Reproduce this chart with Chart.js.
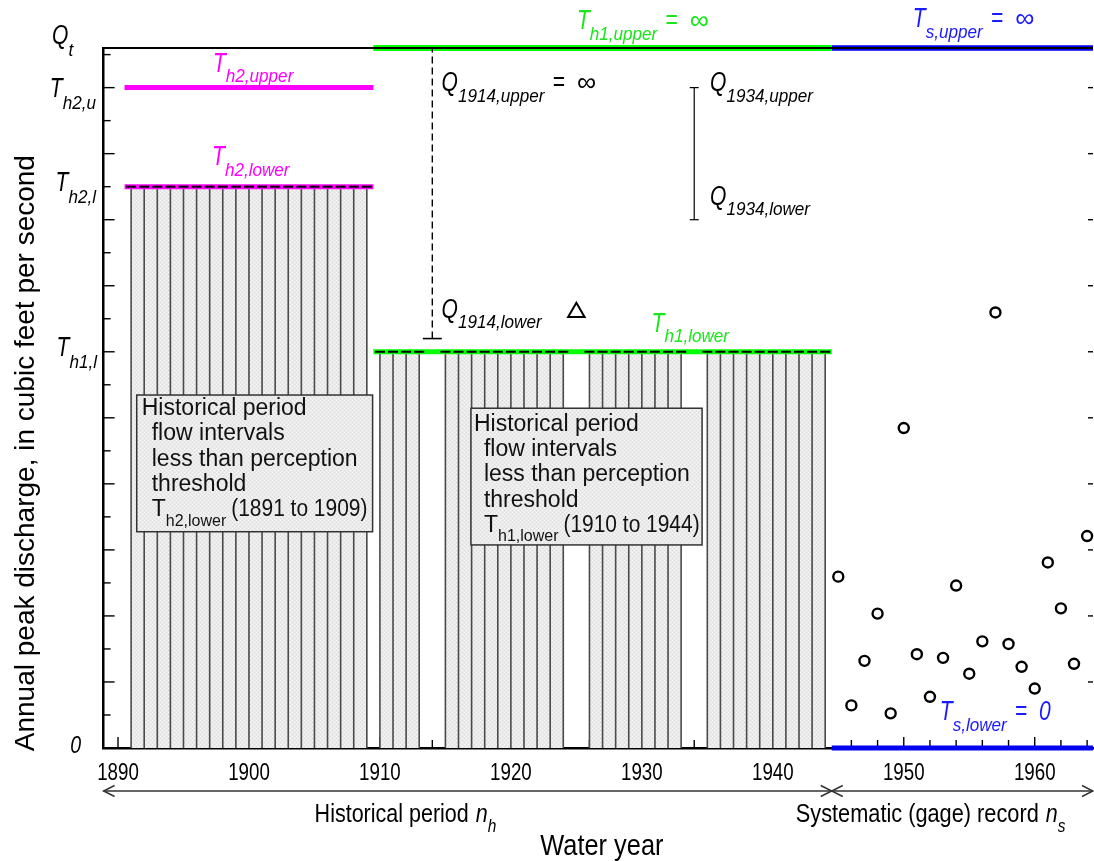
<!DOCTYPE html>
<html>
<head>
<meta charset="utf-8">
<script src="https://cdn.jsdelivr.net/npm/chart.js@4.4.0/dist/chart.umd.min.js"></script>
<style>
  html, body { margin: 0; padding: 0; background: #fff; }
  #wrap { width: 1094px; height: 861px; }
</style>
</head>
<body>
<div id="wrap"><canvas id="chart" width="1094" height="861"></canvas></div>
<script>
// ---- Data -------------------------------------------------------------
// Water years whose peak was below the second historical threshold (T_h2,lower)
const belowTh2Years = [1891, 1892, 1893, 1894, 1895, 1896, 1897, 1898, 1899, 1900,
                       1901, 1902, 1903, 1904, 1905, 1906, 1907, 1908, 1909];
// Water years whose peak was below the first historical threshold (T_h1,lower)
const belowTh1Years = [1910, 1911, 1912, 1913,
                       1915, 1916, 1917, 1918, 1919, 1920, 1921, 1922, 1923, 1924,
                       1926, 1927, 1928, 1929, 1930, 1931, 1932, 1933,
                       1935, 1936, 1937, 1938, 1939, 1940, 1941, 1942, 1943, 1944];

// Perception thresholds (figure discharge units)
const qTop = 21.2;       // Q_t
const th2Upper = 20;     // T_h2,u
const th2Lower = 17;     // T_h2,l
const th1Lower = 12;     // T_h1,l
const tsLower = 0;       // T_s,lower

// Period boundaries (water years)
const axisStart = 1888.9;
const historicalStart = 1890.5;
const th2End = 1909.5;
const historicalEnd = 1944.5;
const systematicEnd = 1964.45;

// Interval (censored) peaks; Infinity means unbounded above
const intervalYears = [1914, 1934];
const intervalLower = [12.4, 16.0];
const intervalUpper = [Infinity, 20.0];

// Historical peak with a known value
const historicPeakYears = [1925];
const historicPeaks = [13.2];

// Systematic (gage) record
const gageYears = [1945, 1946, 1947, 1948, 1949, 1950, 1951, 1952, 1953, 1954,
                   1955, 1956, 1957, 1958, 1959, 1960, 1961, 1962, 1963, 1964];
const gagePeaks = [5.19, 1.29, 2.64, 4.07, 1.05, 9.69, 2.84, 1.55, 2.73, 4.92,
                   2.25, 3.23, 13.19, 3.15, 2.46, 1.80, 5.62, 4.23, 2.55, 6.42];

const xTickLabels = [1890, 1900, 1910, 1920, 1930, 1940, 1950, 1960];

// ---- Styling ----------------------------------------------------------
const MAGENTA = '#ff00ff';
const GREEN = '#00ff00';
const GREEN_TEXT = '#19e619';
const BLUE = '#0000f0';
const BLUE_TEXT = '#1a1aff';
const SANS = '"Liberation Sans", Arial, sans-serif';
const fIt = s => `italic ${s}px ${SANS}`;
const fReg = s => `${s}px ${SANS}`;
// horizontal squeeze used to get a condensed face out of Liberation Sans
const COND = 0.78;

const canvas = document.getElementById('chart');
const ctx0 = canvas.getContext('2d');

// fine dotted grey texture used for the "below threshold" intervals
const texture = (() => {
  const c = document.createElement('canvas');
  c.width = 4; c.height = 4;
  const g = c.getContext('2d');
  g.fillStyle = '#ebebeb'; g.fillRect(0, 0, 4, 4);
  g.fillStyle = '#f8f8f8'; g.fillRect(0, 0, 1, 1); g.fillRect(2, 2, 1, 1);
  g.fillStyle = '#dcdcdc'; g.fillRect(2, 0, 1, 1); g.fillRect(0, 2, 1, 1);
  return ctx0.createPattern(c, 'repeat');
})();

// split a list of years into runs of consecutive years
function runs(years) {
  const out = [];
  let cur = [years[0]];
  for (let i = 1; i < years.length; i++) {
    if (years[i] === years[i - 1] + 1) cur.push(years[i]);
    else { out.push(cur); cur = [years[i]]; }
  }
  out.push(cur);
  return out;
}

const datasets = [];

// shaded blocks of below-threshold years
[[belowTh2Years, th2Lower], [belowTh1Years, th1Lower]].forEach(([yrs, thr]) => {
  runs(yrs).forEach(r => {
    datasets.push({
      data: [{ x: r[0], y: thr }, { x: r[r.length - 1], y: thr }],
      fill: 'origin', backgroundColor: texture, borderWidth: 0,
      pointRadius: 0, order: 60, clip: false
    });
  });
});

// one vertical interval (0 .. threshold) per below-threshold year
function yearSegments(yrs, thr) {
  const pts = [];
  yrs.forEach(yr => { pts.push({ x: yr, y: 0 }, { x: yr, y: thr }, { x: yr, y: null }); });
  return pts;
}
datasets.push({
  data: yearSegments(belowTh2Years, th2Lower).concat(yearSegments(belowTh1Years, th1Lower)),
  borderColor: '#4a4a4a', borderWidth: 1.6, pointRadius: 0, spanGaps: false,
  fill: false, order: 50, clip: false
});

// perception threshold lines
function hLine(x0, x1, level, color, width) {
  datasets.push({
    data: [{ x: x0, y: level }, { x: x1, y: level }],
    borderColor: color, borderWidth: width, borderCapStyle: 'butt',
    pointRadius: 0, fill: false, order: 40, clip: false
  });
}
hLine(historicalStart, th2End, th2Upper, MAGENTA, 5);
hLine(historicalStart, th2End, th2Lower, MAGENTA, 5);
hLine(th2End, historicalEnd, qTop, GREEN, 6);
hLine(th2End, historicalEnd, th1Lower, GREEN, 5);
hLine(historicalEnd, systematicEnd, qTop, BLUE, 5.5);
hLine(historicalEnd, systematicEnd, tsLower, BLUE, 5);

// caps on top of each below-threshold interval
datasets.push({
  data: belowTh2Years.map(yr => ({ x: yr, y: th2Lower }))
        .concat(belowTh1Years.map(yr => ({ x: yr, y: th1Lower }))),
  showLine: false, pointStyle: 'line', pointRadius: 5,
  pointBorderColor: '#000', pointBorderWidth: 2, order: 30, clip: false
});

// interval peaks
intervalYears.forEach((yr, i) => {
  const open = !isFinite(intervalUpper[i]);
  const top = open ? qTop : intervalUpper[i];
  datasets.push({
    data: [{ x: yr, y: intervalLower[i] }, { x: yr, y: top }],
    borderColor: '#000', borderWidth: open ? 1.4 : 1.2,
    borderDash: open ? [7, 4] : [], pointRadius: 0, fill: false, order: 20, clip: false
  });
  const caps = open ? [{ x: yr, y: intervalLower[i] }]
                    : [{ x: yr, y: intervalLower[i] }, { x: yr, y: top }];
  datasets.push({
    data: caps, showLine: false, pointStyle: 'line',
    pointRadius: open ? 9.5 : 4.5, pointBorderColor: '#000',
    pointBorderWidth: open ? 1.6 : 1.2, order: 20, clip: false
  });
});

// historical peak (triangle) and systematic peaks (circles)
datasets.push({
  data: historicPeakYears.map((yr, i) => ({ x: yr, y: historicPeaks[i] })),
  showLine: false, pointStyle: 'triangle', pointRadius: 9.5,
  pointBorderColor: '#000', pointBackgroundColor: 'rgba(0,0,0,0)',
  pointBorderWidth: 2, order: 10, clip: false
});
datasets.push({
  data: gageYears.map((yr, i) => ({ x: yr, y: gagePeaks[i] })),
  showLine: false, pointStyle: 'circle', pointRadius: 5,
  pointBorderColor: '#000', pointBackgroundColor: 'rgba(255,255,255,0)',
  pointBorderWidth: 2.4, order: 10, clip: false
});

// ---- Text helpers -----------------------------------------------------
function textWidth(ctx, p) {
  ctx.font = p.font;
  return ctx.measureText(p.text).width * (p.sx || 1);
}
function drawPart(ctx, p, x, y) {
  ctx.save();
  ctx.font = p.font;
  ctx.fillStyle = p.color || '#000';
  ctx.textAlign = 'left';
  ctx.textBaseline = 'alphabetic';
  ctx.translate(x, y);
  ctx.scale(p.sx || 1, 1);
  ctx.fillText(p.text, 0, 0);
  ctx.restore();
}
function rich(ctx, x, y, parts, align) {
  let w = 0;
  parts.forEach(p => { w += (p.gap || 0) + textWidth(ctx, p); });
  let cx = align === 'center' ? x - w / 2 : align === 'right' ? x - w : x;
  parts.forEach(p => {
    cx += p.gap || 0;
    drawPart(ctx, p, cx, y + (p.dy || 0));
    cx += textWidth(ctx, p);
  });
}
// italic symbol with subscript, optionally followed by "= value"
function subLabel(main, sub, tail, color, subDy) {
  const parts = [
    { text: main, font: fIt(27), sx: COND, color },
    { text: sub, font: fIt(18), sx: 0.95, color, dy: subDy }
  ];
  if (tail) {
    parts.push({ text: '=', font: fIt(27), sx: COND, color, gap: 8 });
    parts.push({ text: tail, font: fIt(27), sx: tail === '\u221E' ? 1.0 : COND, color, gap: 12 });
  }
  return parts;
}
function seg(ctx, x0, y0, x1, y1) {
  ctx.beginPath(); ctx.moveTo(x0, y0); ctx.lineTo(x1, y1); ctx.stroke();
}
function arrowHead(ctx, x, y, dir) {
  ctx.beginPath();
  ctx.moveTo(x + dir * 11, y - 5.5);
  ctx.lineTo(x, y);
  ctx.lineTo(x + dir * 11, y + 5.5);
  ctx.stroke();
}

// labels on the thresholds and interval bounds: anchored at (year, level) + pixel offset
const markLabels = [
  { year: 1897.25, level: th2Upper, dx: 0, dy: -16, main: 'T', sub: 'h2,upper', tail: '', color: MAGENTA },
  { year: 1897.18, level: th2Lower, dx: 0, dy: -21.5, main: 'T', sub: 'h2,lower', tail: '', color: MAGENTA },
  { year: 1925.04, level: qTop, dx: 0, dy: -19, main: 'T', sub: 'h1,upper', tail: '\u221E', color: GREEN_TEXT },
  { year: 1950.69, level: qTop, dx: 0, dy: -21, main: 'T', sub: 's,upper', tail: '\u221E', color: BLUE_TEXT },
  { year: 1930.74, level: th1Lower, dx: 0, dy: -20, main: 'T', sub: 'h1,lower', tail: '', color: GREEN_TEXT },
  { year: 1952.75, level: tsLower, dx: 0, dy: -28, main: 'T', sub: 's,lower', tail: '0', color: BLUE_TEXT },
  { year: intervalYears[0], level: qTop, dx: 9.3, dy: 43, main: 'Q', sub: '1914,upper', tail: '\u221E', color: '#000' },
  { year: intervalYears[0], level: intervalLower[0], dx: 9.3, dy: -20.6, main: 'Q', sub: '1914,lower', tail: '', color: '#000' },
  { year: intervalYears[1], level: intervalUpper[1], dx: 15.8, dy: 3.4, main: 'Q', sub: '1934,upper', tail: '', color: '#000' },
  { year: intervalYears[1], level: intervalLower[1], dx: 15.8, dy: -14.7, main: 'Q', sub: '1934,lower', tail: '', color: '#000' }
];

// y-axis labels at the named discharges
const axisLabels = [
  { level: qTop, main: 'Q', sub: 't', x: 52, align: 'left', dy: -4 },
  { level: th2Upper, main: 'T', sub: 'h2,u', x: 96, align: 'right', dy: 9 },
  { level: th2Lower, main: 'T', sub: 'h2,l', x: 96, align: 'right', dy: 4 },
  { level: th1Lower, main: 'T', sub: 'h1,l', x: 97, align: 'right', dy: 4 }
];

// explanatory boxes (data-space corners)
const noteBoxes = [
  { x0: 1891.43, x1: 1909.44, yTop: 10.69, yBot: 6.55, pad: 5, base: 20, sub: 'h2,lower', range: '(1891 to 1909)' },
  { x0: 1916.95, x1: 1934.6, yTop: 10.29, yBot: 6.15, pad: 3, base: 22.4, sub: 'h1,lower', range: '(1910 to 1944)' }
];
const noteLines = ['Historical period', 'flow intervals', 'less than perception', 'threshold'];

const figurePlugin = {
  id: 'figure',
  beforeDatasetsDraw(chart) {
    const { ctx, chartArea: a, scales: { x, y } } = chart;
    ctx.save();
    ctx.strokeStyle = '#000';
    ctx.lineWidth = 1.4;
    for (let yr = 1890; yr <= 1964; yr += 2) {
      const px = x.getPixelForValue(yr);
      seg(ctx, px, a.bottom, px, a.bottom - (yr % 10 === 0 ? 11 : 8));
    }
    for (let v = 1; v <= 21; v++) {
      const py = y.getPixelForValue(v);
      seg(ctx, a.left, py, a.left + (v % 2 === 0 ? 11 : 7), py);
    }
    for (let v = 2; v <= 20; v += 2) {
      const py = y.getPixelForValue(v);
      seg(ctx, a.right, py, a.right - 5, py);
    }
    ctx.restore();
  },
  afterDatasetsDraw(chart) {
    const { ctx, chartArea: a, scales: { x, y } } = chart;
    ctx.save();

    // top frame line
    ctx.strokeStyle = '#000';
    ctx.lineWidth = 2.2;
    seg(ctx, a.left - 1.2, a.top, a.right, a.top);

    // explanatory boxes
    noteBoxes.forEach(b => {
      const l = x.getPixelForValue(b.x0), r = x.getPixelForValue(b.x1);
      const t = y.getPixelForValue(b.yTop), bt = y.getPixelForValue(b.yBot);
      ctx.fillStyle = texture;
      ctx.fillRect(l, t, r - l, bt - t);
      ctx.strokeStyle = '#333';
      ctx.lineWidth = 1.5;
      ctx.strokeRect(l, t, r - l, bt - t);
      noteLines.forEach((txt, i) => {
        drawPart(ctx, { text: txt, font: fReg(23), color: '#111' },
                 l + b.pad + (i === 0 ? 0 : 10), t + b.base + i * 25.3);
      });
      rich(ctx, l + b.pad + 10, t + b.base + 4 * 25.3, [
        { text: 'T', font: fReg(23), color: '#111' },
        { text: b.sub, font: fReg(16), color: '#111', dy: 9.5 },
        { text: b.range, font: fReg(23), color: '#111', sx: 0.91, gap: 5 }
      ], 'left');
    });

    // labels on thresholds and interval bounds
    markLabels.forEach(m => {
      const px = x.getPixelForValue(m.year) + m.dx;
      const py = y.getPixelForValue(m.level) + m.dy;
      rich(ctx, px, py, subLabel(m.main, m.sub, m.tail, m.color, 10.5), 'left');
    });

    // y-axis named levels
    axisLabels.forEach(l => {
      rich(ctx, l.x, y.getPixelForValue(l.level) + l.dy,
           subLabel(l.main, l.sub, '', '#000', 12), l.align);
    });
    rich(ctx, 81, y.getPixelForValue(tsLower) + 5,
         [{ text: '0', font: fIt(23), sx: 0.85 }], 'right');

    // year labels under the axis
    xTickLabels.forEach(v => {
      rich(ctx, x.getPixelForValue(v), a.bottom + 32,
           [{ text: String(v), font: fReg(24), sx: COND }], 'center');
    });

    // period arrows under the axis
    const ay = a.bottom + 43;
    const xL = a.left, xM = x.getPixelForValue(historicalEnd), xR = a.right;
    ctx.strokeStyle = '#333';
    ctx.lineWidth = 1.5;
    seg(ctx, xL, ay, xR, ay);
    arrowHead(ctx, xL, ay, 1);
    arrowHead(ctx, xM, ay, -1);
    arrowHead(ctx, xM, ay, 1);
    arrowHead(ctx, xR, ay, -1);

    const ly = a.bottom + 74;
    rich(ctx, x.getPixelForValue(1911.95), ly, [
      { text: 'Historical period', font: fReg(25), sx: 0.86 },
      { text: 'n', font: fIt(25), sx: 0.86, gap: 7 },
      { text: 'h', font: fIt(18), sx: 0.86, dy: 10 }
    ], 'center');
    rich(ctx, x.getPixelForValue(1952.05), ly, [
      { text: 'Systematic (gage) record', font: fReg(25), sx: 0.87 },
      { text: 'n', font: fIt(25), sx: 0.86, gap: 7 },
      { text: 's', font: fIt(18), sx: 0.86, dy: 10 }
    ], 'center');

    // axis titles
    rich(ctx, x.getPixelForValue(1926.95), a.bottom + 107,
         [{ text: 'Water year', font: fReg(29), sx: 0.875 }], 'center');
    ctx.translate(34, y.getPixelForValue(8.93));
    ctx.rotate(-Math.PI / 2);
    rich(ctx, 0, 0, [{ text: 'Annual peak discharge, in cubic feet per second', font: fReg(28) }], 'center');
    ctx.restore();
  }
};

new Chart(canvas, {
  type: 'line',
  data: { datasets },
  plugins: [figurePlugin],
  options: {
    responsive: false,
    animation: false,
    devicePixelRatio: 1,
    events: [],
    layout: { autoPadding: false, padding: { top: 48, right: 1, left: 0, bottom: 0 } },
    plugins: { legend: { display: false }, tooltip: { enabled: false } },
    scales: {
      x: {
        type: 'linear', min: axisStart, max: systematicEnd,
        afterFit(s) { s.height = 113; },
        grid: { display: true, drawOnChartArea: false, drawTicks: false },
        border: { display: true, color: '#000', width: 2.5 },
        ticks: { display: false, stepSize: 10, includeBounds: false }
      },
      y: {
        type: 'linear', min: 0, max: qTop,
        afterFit(s) { s.width = 103.6; },
        grid: { display: true, drawOnChartArea: false, drawTicks: false },
        border: { display: true, color: '#000', width: 2.5 },
        ticks: { display: false }
      }
    }
  }
});
</script>
</body>
</html>
